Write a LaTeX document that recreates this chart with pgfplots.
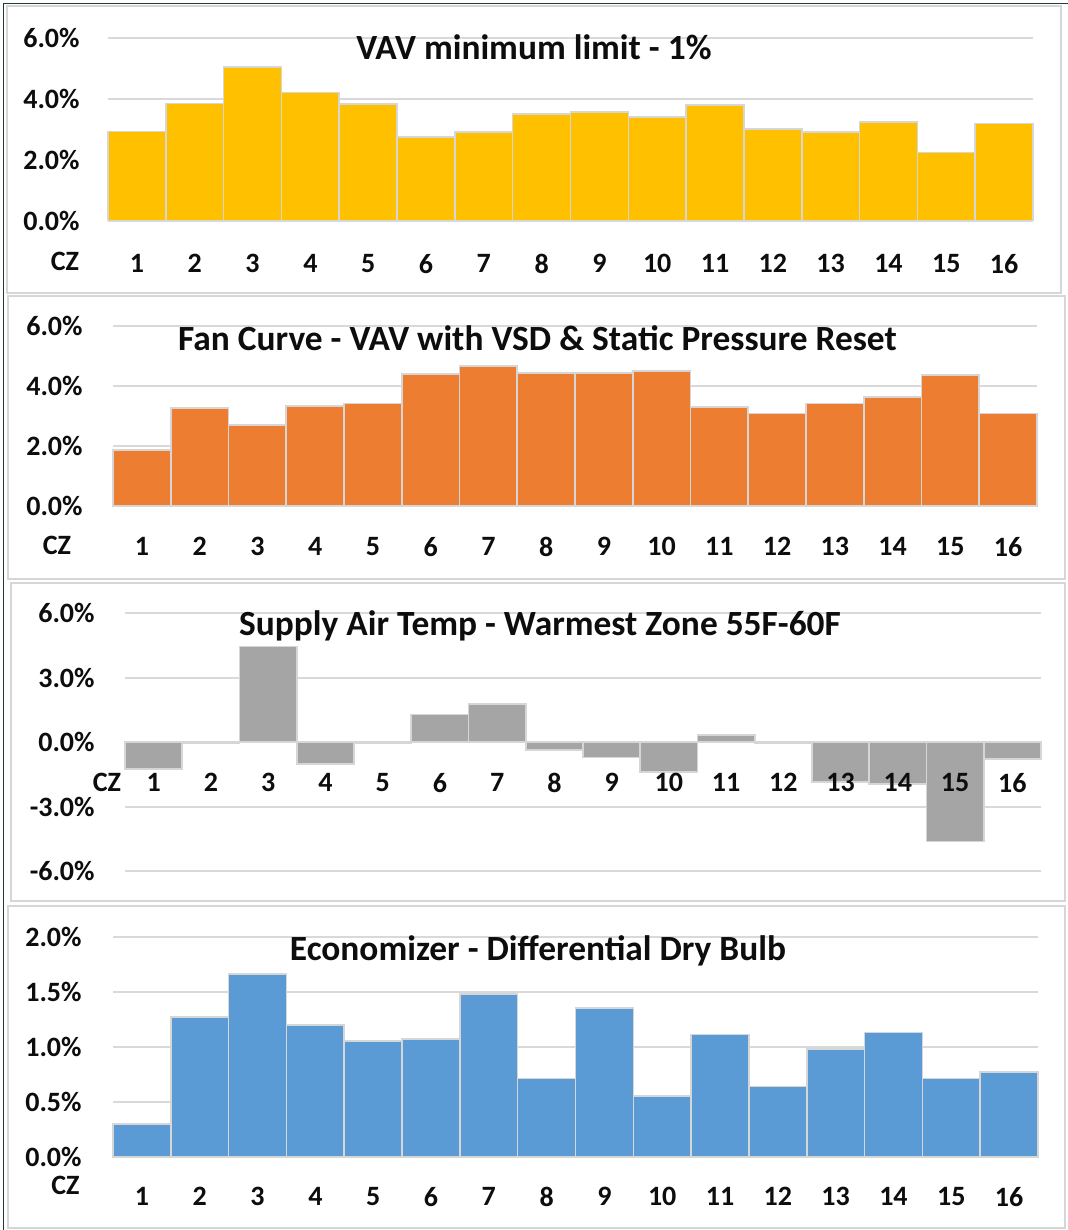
\documentclass[border=0pt]{standalone}
\usepackage{fontspec}
\setmainfont{Carlito}
\usepackage{pgfplots}
\pgfplotsset{compat=1.18}
\definecolor{cyel}{HTML}{FFC000}
\definecolor{corg}{HTML}{ED7D31}
\definecolor{cgry}{HTML}{A5A5A5}
\definecolor{cblu}{HTML}{5B9BD5}
\definecolor{cedge}{HTML}{D6D6D6}
\definecolor{cgrid}{HTML}{D9D9D9}
\definecolor{cframe}{HTML}{1E3B36}
\definecolor{ctext}{HTML}{0D0D0D}
\newcommand{\tickfont}{\fontsize{14}{16}\selectfont\bfseries}
\pgfplotsset{
  panel/.style={
    scale only axis,
    anchor=south west,
    xmin=0.5, xmax=16.5,
    xtick={1,2,3,4,5,6,7,8,9,10,11,12,13,14,15,16},
    xticklabels={1,2,3,4,5,6,7,8,9,10,11,12,13,14,15,16},
    axis line style={draw=none},
    major tick length=0pt,
    ymajorgrids,
    grid style={cgrid, line width=1pt},
    ybar, bar width=1,
    tick label style={font=\tickfont, inner sep=0pt, text=ctext},
    xticklabel style={anchor=north},
    yticklabel style={anchor=east},
    clip=false,
  },
  barsty/.style={draw=cedge, line width=0.8pt, fill=#1},
}
\begin{document}
\begin{tikzpicture}
\useasboundingbox (0,0) rectangle (534pt,-615pt);
\fill[white] (0,0) rectangle (534pt,-615pt);
% panel boxes
\draw[cedge, line width=1.2pt, fill=white] (3.5pt,-3pt) rectangle (530.5pt,-146.5pt);
\draw[cedge, line width=1.2pt, fill=white] (4pt,-148pt) rectangle (532.5pt,-289.5pt);
\draw[cedge, line width=1.2pt, fill=white] (5.5pt,-291.5pt) rectangle (532.5pt,-450.5pt);
\draw[cedge, line width=1.2pt, fill=white] (4pt,-453pt) rectangle (532.5pt,-614pt);
\draw[cframe, line width=0.6pt] (1.75pt,-615pt) -- (1.75pt,-1.75pt) -- (534pt,-1.75pt);

% Panel 1
\begin{axis}[panel, at={(54pt,-110.35pt)}, width=462.5pt, height=91.2pt,
  ymin=0, ymax=6, ytick={0,2,4,6},
  yticklabels={0.0\%,2.0\%,4.0\%,6.0\%},
  yticklabel style={xshift=-14pt},
  xticklabel style={yshift=-16.5pt}]
\addplot[barsty=cyel] coordinates {(1,2.93)(2,3.86)(3,5.06)(4,4.22)(5,3.84)(6,2.76)(7,2.91)(8,3.51)(9,3.58)(10,3.42)(11,3.80)(12,3.01)(13,2.92)(14,3.25)(15,2.24)(16,3.20)};
\end{axis}

% Panel 2
\begin{axis}[panel, at={(56.5pt,-253pt)}, width=462pt, height=90pt,
  ymin=0, ymax=6, ytick={0,2,4,6},
  yticklabels={0.0\%,2.0\%,4.0\%,6.0\%},
  yticklabel style={xshift=-15pt},
  xticklabel style={yshift=-15.3pt}]
\addplot[barsty=corg] coordinates {(1,1.87)(2,3.26)(3,2.70)(4,3.33)(5,3.42)(6,4.40)(7,4.67)(8,4.44)(9,4.44)(10,4.51)(11,3.31)(12,3.09)(13,3.42)(14,3.64)(15,4.37)(16,3.09)};
\end{axis}

% Panel 3
\begin{axis}[panel, at={(62.5pt,-435.5pt)}, width=458pt, height=128.85pt,
  ymin=-6, ymax=6, ytick={-6,-3,0,3,6},
  yticklabels={-6.0\%,-3.0\%,0.0\%,3.0\%,6.0\%},
  yticklabel style={xshift=-15pt},
  xticklabels={}]
\addplot[barsty=cgry] coordinates {(1,-1.24)(2,-0.05)(3,4.45)(4,-1.01)(5,-0.05)(6,1.28)(7,1.78)(8,-0.36)(9,-0.71)(10,-1.40)(11,0.34)(12,-0.05)(13,-1.86)(14,-1.94)(15,-4.62)(16,-0.78)};
\begin{scope}[every node/.style={font=\tickfont, text=ctext, inner sep=0pt, anchor=north, yshift=-15.3pt}]
\node at (axis cs:1,0) {1};
\node at (axis cs:2,0) {2};
\node at (axis cs:3,0) {3};
\node at (axis cs:4,0) {4};
\node at (axis cs:5,0) {5};
\node at (axis cs:6,0) {6};
\node at (axis cs:7,0) {7};
\node at (axis cs:8,0) {8};
\node at (axis cs:9,0) {9};
\node at (axis cs:10,0) {10};
\node at (axis cs:11,0) {11};
\node at (axis cs:12,0) {12};
\node at (axis cs:13,0) {13};
\node at (axis cs:14,0) {14};
\node at (axis cs:15,0) {15};
\node at (axis cs:16,0) {16};
\end{scope}
\end{axis}

% Panel 4
\begin{axis}[panel, at={(56.5pt,-578.35pt)}, width=462.5pt, height=110pt,
  ymin=0, ymax=2, ytick={0,0.5,1,1.5,2},
  yticklabels={0.0\%,0.5\%,1.0\%,1.5\%,2.0\%},
  yticklabel style={xshift=-15.5pt},
  xticklabel style={yshift=-15.2pt}]
\addplot[barsty=cblu] coordinates {(1,0.30)(2,1.27)(3,1.66)(4,1.20)(5,1.05)(6,1.07)(7,1.48)(8,0.71)(9,1.35)(10,0.55)(11,1.11)(12,0.64)(13,0.98)(14,1.13)(15,0.71)(16,0.77)};
\end{axis}

% titles
\begin{scope}[every node/.style={font=\fontsize{17.7}{20}\selectfont\bfseries, text=ctext, inner sep=0pt, anchor=base}]
\node at (267pt,-30pt) {VAV minimum limit - 1\%};
\node at (268.75pt,-175pt) {Fan Curve - VAV with VSD \& Static Pressure Reset};
\node at (270pt,-317.5pt) {Supply Air Temp - Warmest Zone 55F-60F};
\node at (269pt,-480pt) {Economizer - Differential Dry Bulb};
\end{scope}
% CZ labels
\begin{scope}[every node/.style={font=\tickfont, text=ctext, inner sep=0pt}]
\node at (32.5pt,-130.5pt) {CZ};
\node at (28.5pt,-272.5pt) {CZ};
\node at (53.5pt,-391pt) {CZ};
\node at (32.75pt,-592.5pt) {CZ};
\end{scope}
\end{tikzpicture}
\end{document}
